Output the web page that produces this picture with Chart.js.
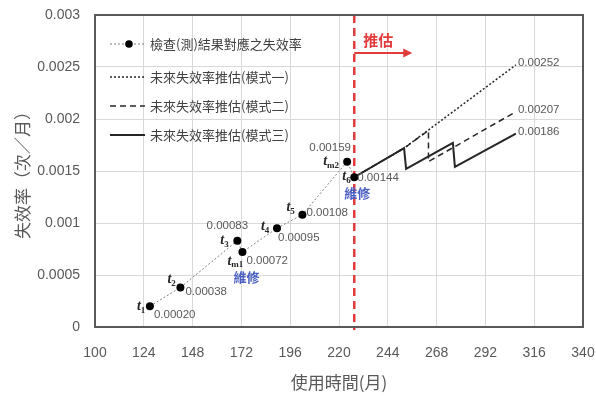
<!DOCTYPE html>
<html>
<head>
<meta charset="utf-8">
<script src="https://cdn.jsdelivr.net/npm/chart.js@4/dist/chart.umd.min.js"></script>
<style>
html,body{margin:0;padding:0;background:#fff;}
#wrap{width:596px;height:396px;position:relative;}
</style>
</head>
<body>
<div id="wrap"><canvas id="c" width="596" height="396"></canvas></div>
<script>
// ---- data ----
const months = [127, 142, 170, 172.5, 189.5, 202, 224, 227.5];
const rates = [0.00020, 0.00038, 0.00083, 0.00072, 0.00095, 0.00108, 0.00159, 0.00144];
const pointSubs = ['1', '2', '3', 'm1', '4', '5', 'm2', '6'];
const repairNotes = ['', '', '', '維修', '', '', '', '維修'];

const mode1Months = [227.5, 252, 307];
const mode1Rates = [0.00144, 0.00172, 0.00252];
const mode2Months = [227.5, 252, 264, 264, 307];
const mode2Rates = [0.00144, 0.00172, 0.00189, 0.00159, 0.00207];
const mode3Months = [227.5, 252, 253, 276, 277, 307];
const mode3Rates = [0.00144, 0.00172, 0.00152, 0.00177, 0.00154, 0.00186];

const predictStart = 227.5;
const xTicks = [100, 124, 148, 172, 196, 220, 244, 268, 292, 316, 340];
const yTicks = [0, 0.0005, 0.001, 0.0015, 0.002, 0.0025, 0.003];

const seriesLabels = ['檢查(測)結果對應之失效率', '未來失效率推估(模式一)', '未來失效率推估(模式二)', '未來失效率推估(模式三)'];
const xTitle = '使用時間(月)';
const yTitle = '失效率（次／月）';
const predictText = '推估';

// ---- label placement (pixel offsets from each point) ----
const nameOffsets = [[-13, 0], [-13, -8], [-17, 0], [-15, 9], [-16, -2], [-16, -7], [-24, 0], [-12, -1]];
const valueOffsets = [[4, 9, 'left'], [5, 4, 'left'], [-10, -15, 'center'], [4, 9, 'left'], [1, 10, 'left'], [4, -2, 'left'], [-17, -14, 'center'], [3, 1, 'left']];
const noteOffsets = [null, null, null, [4, 25], null, null, null, [3, 16]];

const toXY = (xs, ys) => xs.map((x, i) => ({x: x, y: ys[i]}));

const fmt = v => Number(v.toFixed(4)).toString();

const annot = {
  id: 'annot',
  beforeDatasetsDraw(chart) {
    const ctx = chart.ctx;
    const xs = chart.scales.x;
    const a = chart.chartArea;
    const px = xs.getPixelForValue(predictStart);
    ctx.save();
    ctx.strokeStyle = '#e23b3b';
    ctx.lineWidth = 2.5;
    ctx.setLineDash([8, 5]);
    ctx.beginPath();
    ctx.moveTo(px, a.top);
    ctx.lineTo(px, a.bottom + 3);
    ctx.stroke();
    ctx.restore();
  },
  afterDatasetsDraw(chart) {
    const ctx = chart.ctx;
    const xs = chart.scales.x, ys = chart.scales.y;
    const a = chart.chartArea;
    ctx.save();
    ctx.strokeStyle = '#595959';
    ctx.lineWidth = 2;
    ctx.strokeRect(a.left, a.top, a.right - a.left, a.bottom - a.top);

    const px = xs.getPixelForValue(predictStart);
    ctx.strokeStyle = '#e23b3b';
    ctx.fillStyle = '#e23b3b';
    ctx.lineWidth = 2;
    ctx.beginPath();
    ctx.moveTo(px, 53);
    ctx.lineTo(px + 52, 53);
    ctx.stroke();
    ctx.beginPath();
    ctx.moveTo(px + 58, 53);
    ctx.lineTo(px + 49, 48.5);
    ctx.lineTo(px + 49, 57.5);
    ctx.closePath();
    ctx.fill();
    ctx.font = 'bold 15px "Noto Sans CJK TC"';
    ctx.textAlign = 'left';
    ctx.textBaseline = 'middle';
    ctx.fillText(predictText, px + 9, 40);

    months.forEach((m, i) => {
      const x = xs.getPixelForValue(m), y = ys.getPixelForValue(rates[i]);
      const no = nameOffsets[i];
      ctx.fillStyle = '#262626';
      ctx.textAlign = 'left';
      ctx.textBaseline = 'middle';
      ctx.font = 'bold italic 14px "Liberation Serif"';
      const tx = x + no[0];
      ctx.fillText('t', tx, y + no[1]);
      const tw = ctx.measureText('t').width;
      ctx.font = 'bold 9px "Liberation Serif"';
      ctx.fillText(pointSubs[i], tx + tw, y + no[1] + 4);
      const vo = valueOffsets[i];
      ctx.fillStyle = '#595959';
      ctx.font = '11.5px "Liberation Sans"';
      ctx.textAlign = vo[2];
      ctx.fillText(rates[i].toFixed(5), x + vo[0], y + vo[1]);
      if (repairNotes[i]) {
        const ro = noteOffsets[i];
        ctx.fillStyle = '#4a5fc1';
        ctx.font = 'bold 13px "Noto Sans CJK TC"';
        ctx.textAlign = 'center';
        ctx.fillText(repairNotes[i], x + ro[0], y + ro[1]);
      }
    });

    ctx.fillStyle = '#595959';
    ctx.font = '11.5px "Liberation Sans"';
    ctx.textAlign = 'left';
    [[mode1Months, mode1Rates], [mode2Months, mode2Rates], [mode3Months, mode3Rates]].forEach(([mx, mr]) => {
      const n = mx.length - 1;
      ctx.fillText(mr[n].toFixed(5), xs.getPixelForValue(mx[n]) + 2, ys.getPixelForValue(mr[n]) - 2);
    });

    const rowsY = [44, 77, 106, 135];
    const lx0 = 110, lx1 = 145;
    chart.data.datasets.forEach((ds, i) => {
      const y = rowsY[i];
      ctx.strokeStyle = ds.borderColor;
      ctx.lineWidth = ds.borderWidth;
      ctx.setLineDash(ds.borderDash || []);
      ctx.beginPath();
      ctx.moveTo(lx0, y);
      ctx.lineTo(lx1, y);
      ctx.stroke();
      ctx.setLineDash([]);
      if (ds.pointRadius > 0) {
        ctx.fillStyle = ds.pointBackgroundColor;
        ctx.beginPath();
        ctx.arc(129, y, 3.8, 0, Math.PI * 2);
        ctx.fill();
      }
      ctx.fillStyle = '#404040';
      ctx.font = '13px "Noto Sans CJK TC"';
      ctx.textAlign = 'left';
      ctx.textBaseline = 'middle';
      ctx.fillText(ds.label, 150, y);
    });
    ctx.restore();
  }
};

new Chart(document.getElementById('c'), {
  type: 'scatter',
  data: {
    datasets: [
      {
        label: seriesLabels[0],
        data: toXY(months, rates),
        showLine: true,
        borderColor: '#808080',
        borderWidth: 1,
        borderDash: [2, 2],
        pointRadius: 4,
        pointBackgroundColor: '#000000',
        pointBorderColor: '#000000',
        pointBorderWidth: 0
      },
      {
        label: seriesLabels[1],
        data: toXY(mode1Months, mode1Rates),
        showLine: true,
        borderColor: '#262626',
        borderWidth: 1.5,
        borderDash: [2, 2],
        pointRadius: 0
      },
      {
        label: seriesLabels[2],
        data: toXY(mode2Months, mode2Rates),
        showLine: true,
        borderColor: '#262626',
        borderWidth: 1.5,
        borderDash: [6, 4],
        pointRadius: 0
      },
      {
        label: seriesLabels[3],
        data: toXY(mode3Months, mode3Rates),
        showLine: true,
        borderColor: '#262626',
        borderWidth: 2,
        pointRadius: 0
      }
    ]
  },
  options: {
    responsive: false,
    animation: false,
    layout: {padding: {top: 15, right: 13, left: 0, bottom: 0}},
    plugins: {legend: {display: false}, tooltip: {enabled: false}},
    scales: {
      x: {
        type: 'linear',
        min: xTicks[0], max: xTicks[xTicks.length - 1],
        afterBuildTicks: s => { s.ticks = xTicks.map(v => ({value: v})); },
        afterFit: s => { s.height = 69; s.paddingLeft = 0; s.paddingRight = 0; },
        ticks: {color: '#595959', font: {family: '"Liberation Sans"', size: 14}, padding: 18, maxRotation: 0},
        grid: {color: '#d9d9d9', lineWidth: 1, drawTicks: false},
        border: {display: false},
        title: {display: true, text: xTitle, color: '#595959', font: {family: '"Noto Sans CJK TC"', size: 17}, padding: {top: 0, bottom: 3}}
      },
      y: {
        type: 'linear',
        min: yTicks[0], max: yTicks[yTicks.length - 1],
        afterBuildTicks: s => { s.ticks = yTicks.map(v => ({value: v})); },
        afterFit: s => { s.width = 95; s.paddingTop = 0; s.paddingBottom = 0; },
        ticks: {color: '#595959', font: {family: '"Liberation Sans"', size: 14}, padding: 15, callback: v => fmt(v)},
        grid: {color: '#d9d9d9', lineWidth: 1, drawTicks: false},
        border: {display: false},
        title: {display: true, text: yTitle, color: '#595959', font: {family: '"Noto Sans CJK TC"', size: 17}, padding: {top: 12, bottom: 0}}
      }
    }
  },
  plugins: [annot]
});
</script>
</body>
</html>
